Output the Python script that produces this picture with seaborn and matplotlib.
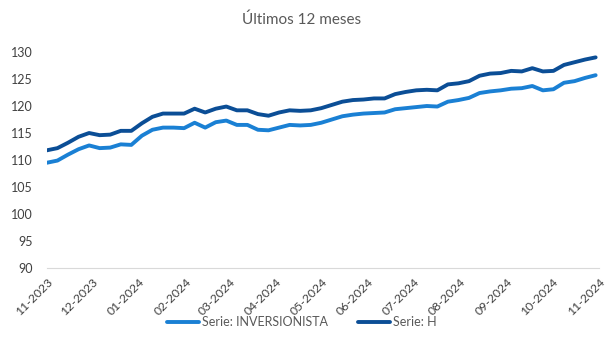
import numpy as np
import pandas as pd
import matplotlib
matplotlib.use("Agg")
import matplotlib.pyplot as plt
import matplotlib.dates as mdates
import seaborn as sns

# Weekly index levels, Nov 2023 - Oct 2024
dates = pd.date_range("2023-11-01", periods=53, freq="7D")

serie_h = [
    111.8, 112.2, 113.2, 114.3, 115.0, 114.6, 114.7, 115.4, 115.4, 116.8,
    118.0, 118.6, 118.6, 118.6, 119.5, 118.8, 119.5, 119.9, 119.2, 119.2,
    118.5, 118.2, 118.8, 119.2, 119.1, 119.2, 119.6, 120.2, 120.8, 121.1,
    121.2, 121.4, 121.4, 122.2, 122.6, 122.9, 123.0, 122.9, 124.0, 124.2,
    124.6, 125.6, 126.0, 126.1, 126.5, 126.4, 127.0, 126.4, 126.5, 127.6,
    128.1, 128.6, 129.0,
]
serie_inversionista = [
    109.5, 109.9, 111.0, 112.0, 112.7, 112.2, 112.3, 112.9, 112.8, 114.5,
    115.6, 116.0, 116.0, 115.9, 116.9, 116.0, 117.0, 117.3, 116.5, 116.5,
    115.6, 115.5, 116.0, 116.5, 116.4, 116.5, 116.9, 117.5, 118.1, 118.4,
    118.6, 118.7, 118.8, 119.4, 119.6, 119.8, 120.0, 119.9, 120.8, 121.1,
    121.5, 122.4, 122.7, 122.9, 123.2, 123.3, 123.7, 122.9, 123.1, 124.3,
    124.6, 125.2, 125.7,
]

series_names = ["Serie: INVERSIONISTA", "Serie: H"]
series_colors = ["#1a80d4", "#0b4e96"]

df = pd.concat([
    pd.DataFrame({"fecha": dates, "valor": serie_inversionista, "serie": series_names[0]}),
    pd.DataFrame({"fecha": dates, "valor": serie_h, "serie": series_names[1]}),
])

sns.set_style("white")
plt.rcParams["font.family"] = ["Lato", "DejaVu Sans"]

fig = plt.figure(figsize=(6.09, 3.56), dpi=100)
ax = fig.add_axes([0.077, 0.247, 0.906, 0.607])

sns.lineplot(
    data=df, x="fecha", y="valor", hue="serie",
    palette=dict(zip(series_names, series_colors)),
    linewidth=2.8, ax=ax, legend=True,
)

ax.set_ylim(90, 130)
ax.set_yticks(np.arange(90, 131, 5))
ax.set_xlim(pd.Timestamp("2023-11-01"), pd.Timestamp("2024-11-01"))
ax.xaxis.set_major_locator(mdates.MonthLocator())
ax.xaxis.set_major_formatter(mdates.DateFormatter("%m-%Y"))

text_color = "#404040"
ax.tick_params(axis="y", length=0, pad=10, labelsize=9, labelcolor=text_color)
ax.tick_params(axis="x", length=4, width=0.8, color="#d9d9d9", pad=2,
               labelsize=8.8, labelcolor=text_color)
for lbl in ax.get_xticklabels():
    lbl.set_rotation(45)
    lbl.set_ha("right")
    lbl.set_rotation_mode("anchor")

for side in ["top", "right", "left"]:
    ax.spines[side].set_visible(False)
ax.spines["bottom"].set_color("#d9d9d9")
ax.spines["bottom"].set_linewidth(0.8)
ax.set_xlabel("")
ax.set_ylabel("")

fig.text(0.495, 0.945, "Últimos 12 meses", ha="center", va="center",
         fontsize=11, color="#595959")

handles, labels = ax.get_legend_handles_labels()
for h in handles:
    h.set_linewidth(2.8)
ax.legend(handles, labels, loc="center", bbox_to_anchor=(0.495, 0.095),
          bbox_transform=fig.transFigure, ncol=2, frameon=False,
          handlelength=2.6, handletextpad=0.2, columnspacing=2.4,
          fontsize=9, labelcolor="#595959")

fig.savefig("out.png", dpi=100)
